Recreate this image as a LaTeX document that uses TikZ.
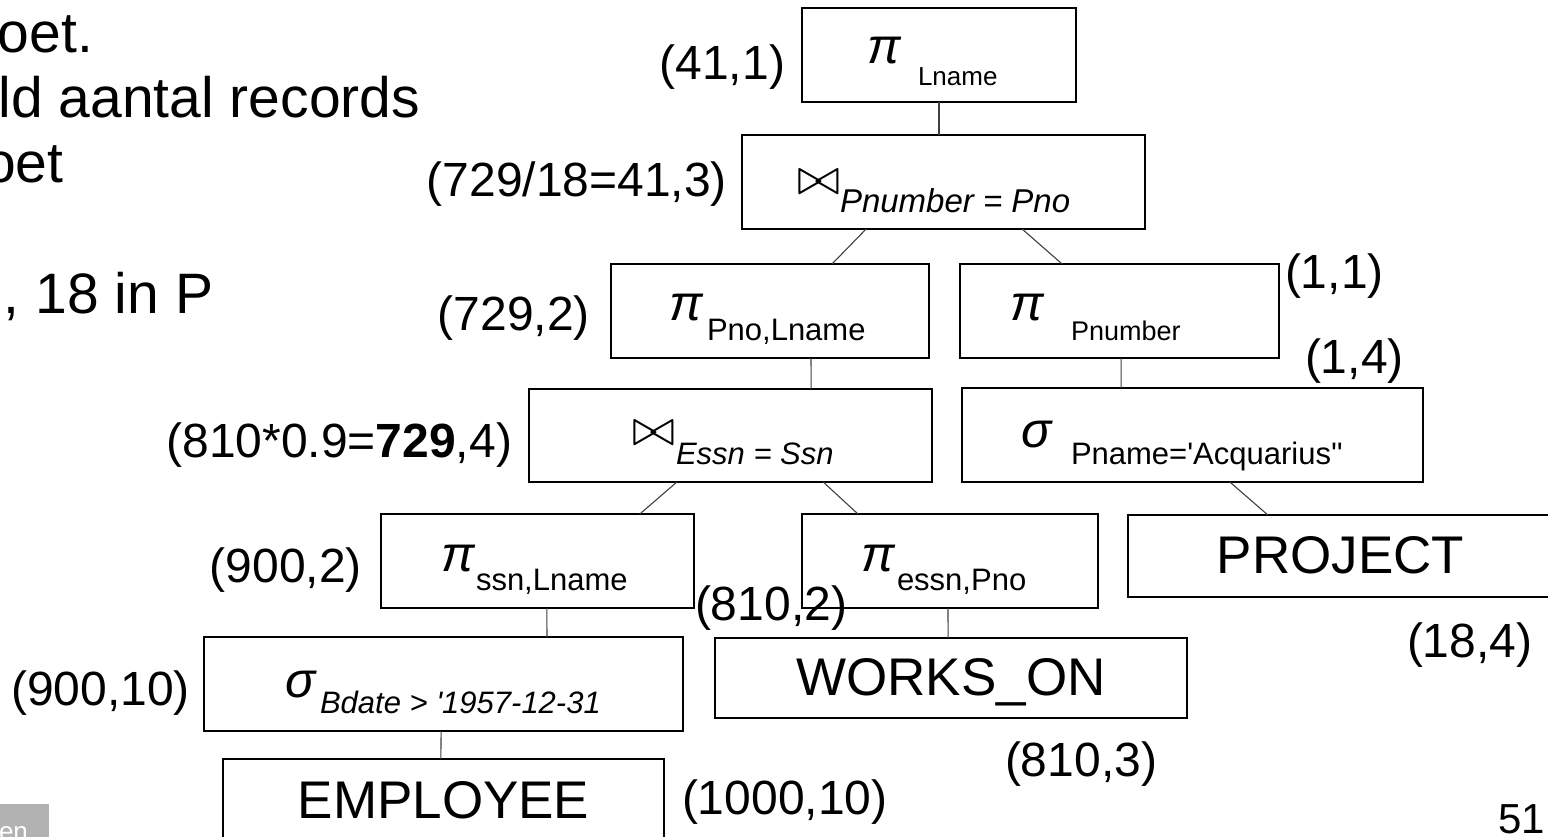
\documentclass[tikz,border=0pt]{standalone}
\usepackage{fontspec}
\usepackage{graphicx}
\setmainfont{Liberation Sans}
\newfontfamily\arial{Liberation Sans}
\usetikzlibrary{calc}
\newcommand{\fsz}[1]{\fontsize{#1}{#1}\selectfont}
\newcommand{\joinsym}{\resizebox{43pt}{!}{$\bowtie$}}

\begin{document}
\begin{tikzpicture}[x=1pt,y=-1pt,
  every node/.style={inner sep=0pt, outer sep=0pt},
  opbox/.style={draw=black, line width=2pt, rectangle},
  conn/.style={draw=black!75, line width=1.1pt},
  lbl/.style={font=\arial\fsz{48}},
  sym/.style={font=\arial\itshape\fsz{50}},
  subA/.style={font=\arial\fsz{31}},
  subI/.style={font=\arial\itshape\fsz{31}},
  subJ/.style={font=\arial\itshape\fsz{33}},
  subS/.style={font=\arial\fsz{26}},
  subP/.style={font=\arial\fsz{27}},
  rel/.style={font=\arial\fsz{53}},
  slide/.style={font=\arial\fsz{57}}]

\useasboundingbox (0,0) rectangle (1548,837);
\fill[white] (0,0) rectangle (1548,837);
\begin{scope}
\clip (0,0) rectangle (1548,837);

% slide text on the left
\node[slide, anchor=base west] (s1) at (-2,53) {oet.};
\node[slide, anchor=base east] (s2) at (420,118) {ld aantal records};
\node[slide, anchor=base west] (s3) at (-16,183) {oet};
\node[slide, anchor=base west] (s4) at (4,313) {, 18 in P};

% footer
\fill[black!30] (0,804) rectangle (49,837);
\node[font=\arial\fsz{26}, text=white, anchor=base west] (foot) at (-1,840) {en};
\node[font=\arial\fsz{42}, anchor=base east] (pageno) at (1545,833) {51};

% operator boxes
\node[opbox, minimum width=274pt, minimum height=94pt] (pl)   at (939,55) {};
\node[opbox, minimum width=403pt, minimum height=94pt] (jp)   at (943.5,182) {};
\node[opbox, minimum width=318pt, minimum height=94pt] (ppl)  at (770,311) {};
\node[opbox, minimum width=319pt, minimum height=94pt] (ppn)  at (1119.5,311) {};
\node[opbox, minimum width=403pt, minimum height=93pt] (je)   at (730.5,435.5) {};
\node[opbox, minimum width=461pt, minimum height=94pt] (sp)   at (1192.5,435) {};
\node[opbox, minimum width=313pt, minimum height=94pt] (psl)  at (537.5,561) {};
\node[opbox, minimum width=296pt, minimum height=94pt] (pep)  at (950,561) {};
\node[opbox, minimum width=425pt, minimum height=82pt] (proj) at (1340.5,556) {};
\node[opbox, minimum width=479pt, minimum height=94pt] (sb)   at (443.5,684) {};
\node[opbox, minimum width=472pt, minimum height=80pt] (wo)   at (951,678) {};
\node[opbox, minimum width=441pt, minimum height=82pt] (emp)  at (443.5,800) {};

% box contents
\node[sym, anchor=base west] (plS) at (867,64) {π};
\node[subS, anchor=base west] (plT) at (918,86) {Lname};

\node[anchor=base west] (jpS) at (797,195) {\joinsym};
\node[subJ, anchor=base west] (jpT) at (840,213) {Pnumber = Pno};

\node[sym, anchor=base west] (pplS) at (669,320) {π};
\node[subA, anchor=base west] (pplT) at (707,340) {Pno,Lname};

\node[sym, anchor=base west] (ppnS) at (1010,320) {π};
\node[subP, anchor=base west] (ppnT) at (1071,340) {Pnumber};

\node[anchor=base west] (jeS) at (632,445) {\joinsym};
\node[subI, anchor=base west] (jeT) at (676,464) {Essn = Ssn};

\node[sym, anchor=base west] (spS) at (1021,447) {σ};
\node[subA, anchor=base west] (spT) at (1071,464) {Pname='Acquarius''};

\node[sym, anchor=base west] (pslS) at (441,571) {π};
\node[subA, anchor=base west] (pslT) at (476,590) {ssn,Lname};

\node[sym, anchor=base west] (pepS) at (861,571) {π};
\node[subA, anchor=base west] (pepT) at (897,590) {essn,Pno};

\node[sym, anchor=base west] (sbS) at (285,697) {σ};
\node[subI, anchor=base west] (sbT) at (320,713) {Bdate > '1957-12-31};

\node[rel, anchor=base] (projT) at (1340.5,573) {PROJECT};
\node[rel, anchor=base] (woT)   at (951,695) {WORKS\_ON};
\node[rel, anchor=base] (empT)  at (443.5,818) {EMPLOYEE};

% size estimates
\node[lbl, anchor=base east] (l1)  at (785,80)   {(41,1)};
\node[lbl, anchor=base east] (l2)  at (727,197)  {(729/18=41,3)};
\node[lbl, anchor=base west] (l3)  at (1285,288) {(1,1)};
\node[lbl, anchor=base west] (l4)  at (1305,373) {(1,4)};
\node[lbl, anchor=base east] (l5)  at (590,330)  {(729,2)};
\node[lbl, anchor=base east] (l6)  at (512,457)  {(810*0.9=\textbf{729},4)};
\node[lbl, anchor=base east] (l7)  at (362,582)  {(900,2)};
\node[lbl, anchor=base east] (l8)  at (190,705)  {(900,10)};
\node[lbl, anchor=base west] (l9)  at (695,620)  {(810,2)};
\node[lbl, anchor=base west] (l10) at (1005,776) {(810,3)};
\node[lbl, anchor=base west] (l11) at (1407,657) {(18,4)};
\node[lbl, anchor=base west] (l12) at (682,814)  {(1000,10)};

% tree edges
\draw[conn] (pl.south) -- (pl.south |- jp.north);
\draw[conn] ($(jp.south west)!0.308!(jp.south east)$) -- ($(ppl.north west)!0.695!(ppl.north east)$);
\draw[conn] ($(jp.south west)!0.695!(jp.south east)$) -- ($(ppn.north west)!0.32!(ppn.north east)$);
\draw[conn] ($(ppl.south west)!0.629!(ppl.south east)$) -- ($(je.north west)!0.70!(je.north east)$);
\draw[conn] ($(ppn.south west)!0.505!(ppn.south east)$) -- ($(sp.north west)!0.345!(sp.north east)$);
\draw[conn] ($(je.south west)!0.367!(je.south east)$) -- ($(psl.north west)!0.827!(psl.north east)$);
\draw[conn] ($(je.south west)!0.73!(je.south east)$) -- ($(pep.north west)!0.189!(pep.north east)$);
\draw[conn] ($(sp.south west)!0.581!(sp.south east)$) -- ($(proj.north west)!0.329!(proj.north east)$);
\draw[conn] ($(psl.south west)!0.53!(psl.south east)$) -- ($(sb.north west)!0.716!(sb.north east)$);
\draw[conn] ($(pep.south west)!0.493!(pep.south east)$) -- ($(wo.north west)!0.494!(wo.north east)$);
\draw[conn] ($(sb.south west)!0.495!(sb.south east)$) -- ($(emp.north west)!0.494!(emp.north east)$);
\end{scope}
\end{tikzpicture}
\end{document}
